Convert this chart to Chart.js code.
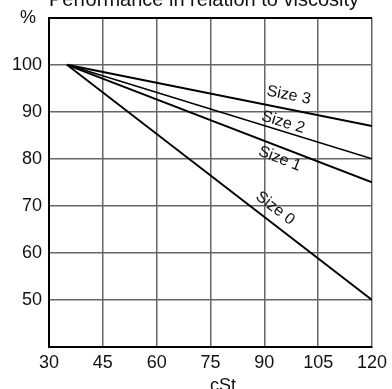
<!DOCTYPE html>
<html>
<head>
<meta charset="utf-8">
<script src="https://cdn.jsdelivr.net/npm/chart.js@4"></script>
<style>
  html, body { margin: 0; padding: 0; background: #fff; }
  canvas { display: block; }
</style>
</head>
<body>
<canvas id="viscosityChart" width="392" height="389"></canvas>
<script>
// viscosity (cSt) and performance (%) per pump size
const viscosity = [35, 120];
const size0 = [100, 50];
const size1 = [100, 75];
const size2 = [100, 80];
const size3 = [100, 87];
const seriesNames = ['Size 0', 'Size 1', 'Size 2', 'Size 3'];
const xTicks = [30, 45, 60, 75, 90, 105, 120];
const yTicks = [50, 60, 70, 80, 90, 100];

const FONT = '"Liberation Sans", Arial, sans-serif';

function toPoints(values) {
  return values.map((v, i) => ({ x: viscosity[i], y: v }));
}

// where each curve name sits: x value along the line, pixel shift up/down
const labelSpots = {
  'Size 0': { at: 93.0, shift: -17 },
  'Size 1': { at: 94.3, shift: 12 },
  'Size 2': { at: 95.2, shift: -9 },
  'Size 3': { at: 96.8, shift: -14 }
};

const textPlugin = {
  id: 'chartTexts',
  afterDatasetsDraw(chart) {
    const c = chart.ctx;
    const xs = chart.scales.x;
    const ys = chart.scales.y;
    const area = chart.chartArea;
    c.save();
    c.fillStyle = '#111';

    // title, sitting right at the top edge
    c.font = '20px ' + FONT;
    c.textAlign = 'center';
    c.textBaseline = 'alphabetic';
    c.fillText('Performance in relation to viscosity', 204, area.top - 12);

    // unit labels
    c.font = '18px ' + FONT;
    c.textBaseline = 'middle';
    c.fillText('%', 28, area.top);
    c.fillText('cSt', 223, area.bottom + 39);

    // curve names rotated along their lines
    c.font = '16px ' + FONT;
    chart.data.datasets.forEach((ds) => {
      const spot = labelSpots[ds.label];
      const p0 = ds.data[0], p1 = ds.data[ds.data.length - 1];
      const x0 = xs.getPixelForValue(p0.x), y0 = ys.getPixelForValue(p0.y);
      const x1 = xs.getPixelForValue(p1.x), y1 = ys.getPixelForValue(p1.y);
      const angle = Math.atan2(y1 - y0, x1 - x0);
      const t = (spot.at - p0.x) / (p1.x - p0.x);
      const val = p0.y + t * (p1.y - p0.y);
      const px = xs.getPixelForValue(spot.at);
      const py = ys.getPixelForValue(val) + spot.shift;
      c.save();
      c.translate(px, py);
      c.rotate(angle);
      c.fillText(ds.label, 0, 0);
      c.restore();
    });
    c.restore();
  }
};

const lineWidths = [1.8, 2, 1.5, 2];

new Chart(document.getElementById('viscosityChart'), {
  type: 'line',
  data: {
    datasets: [size0, size1, size2, size3].map((vals, i) => ({
      label: seriesNames[i],
      data: toPoints(vals),
      borderColor: '#000',
      borderWidth: lineWidths[i],
      pointRadius: 0,
      tension: 0,
      fill: false
    }))
  },
  options: {
    responsive: false,
    animation: false,
    layout: { padding: { top: 17, right: 13, left: 0, bottom: 0 } },
    plugins: {
      legend: { display: false },
      tooltip: { enabled: false }
    },
    scales: {
      x: {
        type: 'linear',
        min: 30,
        max: 120,
        afterFit: (s) => { s.height = 42; },
        afterBuildTicks: (s) => { s.ticks = xTicks.map((v) => ({ value: v })); },
        grid: { color: '#666', lineWidth: 1.5, drawTicks: false },
        border: { color: '#000', width: 2 },
        ticks: {
          padding: 5,
          color: '#111',
          maxRotation: 0,
          font: { family: FONT, size: 18 }
        }
      },
      y: {
        min: 40,
        max: 110,
        afterFit: (s) => { s.width = 49; },
        afterBuildTicks: (s) => {
          s.ticks = [40, ...yTicks, 110].map((v) => ({ value: v }));
        },
        grid: {
          drawTicks: false,
          color: (ctx) => (ctx.tick && ctx.tick.value === 110 ? '#000' : '#666'),
          lineWidth: (ctx) => (ctx.tick && ctx.tick.value === 110 ? 2 : 1.5)
        },
        border: { color: '#000', width: 2 },
        ticks: {
          padding: 7,
          color: '#111',
          font: { family: FONT, size: 18 },
          callback: (v) => (yTicks.includes(v) ? String(v) : '')
        }
      }
    }
  },
  plugins: [textPlugin]
});
</script>
</body>
</html>
